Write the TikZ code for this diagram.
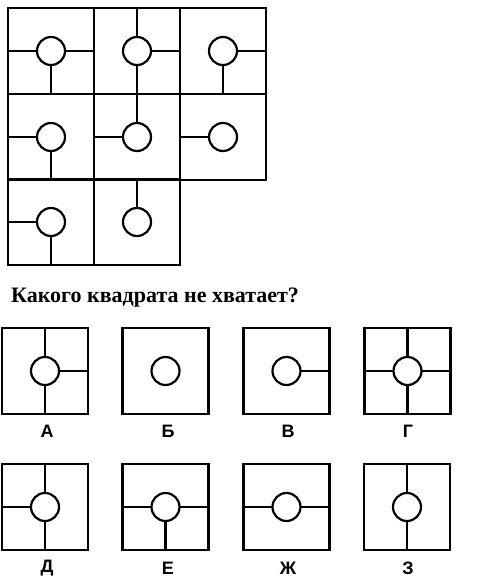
\documentclass[tikz,border=0pt]{standalone}
\usepackage{fontspec}
\setmainfont{Liberation Serif}
\newfontfamily\labfont{Liberation Sans}
\begin{document}
\begin{tikzpicture}[x=1pt,y=-1pt,
  sq/.style={draw,line width=2.2pt,minimum size=86pt,inner sep=0pt,outer sep=0pt},
  ring/.style={draw,circle,line width=2.2pt,minimum size=28pt,inner sep=0pt,outer sep=0pt,fill=white},
  ln/.style={line width=2.2pt},
  lab/.style={font=\labfont\bfseries\fontsize{18}{18}\selectfont,inner sep=0pt},
  question/.style={font=\bfseries\fontsize{22}{22}\selectfont,inner sep=0pt,anchor=base west}]
\useasboundingbox (0,0) rectangle (477,586);
\newcommand{\tile}[4]{%
  \node[sq] (#3) at (#1,#2) {};
  \node[ring] (#3c) at (#1,#2) {};
  \foreach \d in {#4} {\draw[ln] (#3c.\d) -- (#3.\d);}
}
% grid
\tile{51}{51}{g11}{west,east,south}
\tile{137}{51}{g12}{north,east,south}
\tile{223}{51}{g13}{east,south}
\tile{51}{137}{g21}{west,south}
\tile{137}{137}{g22}{north,west}
\tile{223}{137}{g23}{west}
\tile{51}{222}{g31}{west,south}
\tile{137}{222}{g32}{north}
% question
\node[question] (q) at (11,302) {Какого квадрата не хватает?};
% options row 1
\tile{45}{371}{oA}{north,south,east}
\tile{165.5}{371}{oB}{}
\tile{286.5}{371}{oV}{east}
\tile{407.5}{371}{oG}{north,south,east,west}
\node[lab] (lA) at (47,431) {А};
\node[lab] (lB) at (168,431) {Б};
\node[lab] (lV) at (288,431) {В};
\node[lab] (lG) at (408,431) {Г};
% options row 2
\tile{45}{507}{oD}{north,south,west}
\tile{165.5}{507}{oE}{west,east,south}
\tile{286.5}{507}{oZh}{west,east}
\tile{407}{507}{oZ}{north,south}
\node[lab] (lD) at (47,568) {Д};
\node[lab] (lE) at (168,568) {Е};
\node[lab] (lZh) at (288,568) {Ж};
\node[lab] (lZ) at (408,568) {З};
\end{tikzpicture}
\end{document}
